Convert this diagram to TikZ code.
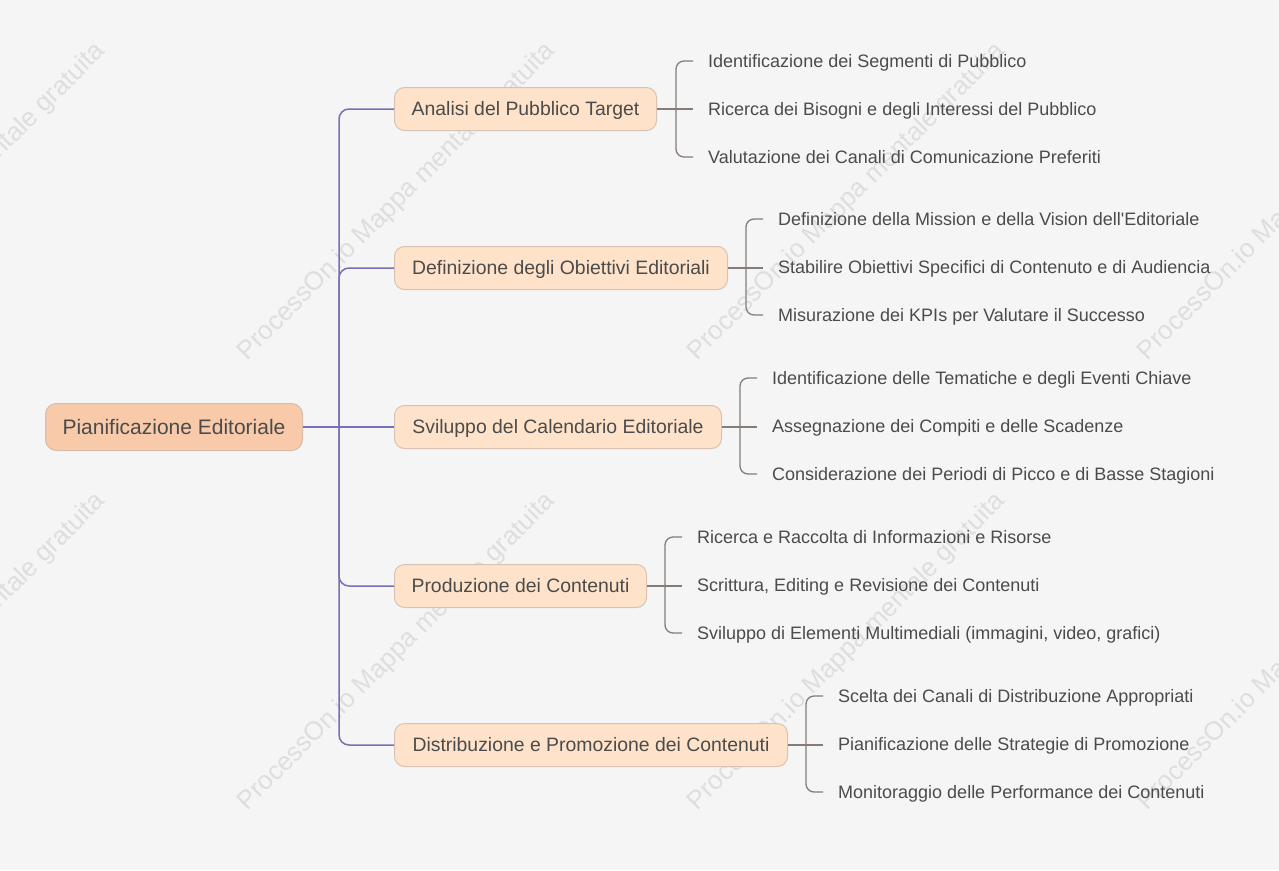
\documentclass[tikz,border=0pt]{standalone}
\usepackage{fontspec}
\setmainfont{Liberation Sans}
\newfontfamily\lsans{Liberation Sans}
\definecolor{bg}{HTML}{F5F5F5}
\definecolor{rootfill}{HTML}{F8CAAA}
\definecolor{rootdraw}{HTML}{D6BCAA}
\definecolor{brfill}{HTML}{FEE3CA}
\definecolor{brdraw}{HTML}{D9C2B4}
\definecolor{trunk}{HTML}{7B6DB6}
\definecolor{leafline}{HTML}{857C78}
\definecolor{txt}{HTML}{4B4B4B}
\definecolor{wm}{HTML}{DEDEDE}
\tikzset{
  rootbox/.style={draw=rootdraw, line width=1pt, fill=rootfill, rounded corners=11pt,
    minimum height=47pt, text=txt, font=\lsans\fontsize{21}{25}\selectfont,
    text height=15pt, text depth=0pt, inner xsep=0pt, anchor=west},
  brbox/.style={draw=brdraw, line width=1pt, fill=brfill, rounded corners=10pt,
    minimum height=43pt, text=txt, font=\lsans\fontsize{19.4}{23}\selectfont,
    text height=13.9pt, text depth=0pt, inner xsep=0pt, anchor=west},
  leaf/.style={text=txt, font=\lsans\fontsize{18}{22}\selectfont, text height=12.9pt,
    text depth=0pt, inner xsep=15pt, inner ysep=0pt, anchor=west},
  trunkline/.style={draw=trunk, line width=1.5pt, rounded corners=10pt},
  rootline/.style={draw=trunk, line width=2.2pt},
  stemline/.style={draw=leafline, line width=2pt},
  brkline/.style={draw=leafline, line width=1.3pt, rounded corners=8pt},
  wmark/.style={text=wm, font=\lsans\fontsize{26}{30}\selectfont, rotate=45, inner sep=0pt}
}
\begin{document}
\begin{tikzpicture}[x=1pt,y=-1pt]
\fill[bg] (0,0) rectangle (1279,870);
\useasboundingbox (0,0) rectangle (1279,870);
% watermarks
\foreach \wx in {-53,397,847,1297}{
  \foreach \wy in {202,652}{
    \node[wmark] at (\wx,\wy) {ProcessOn.io Mappa mentale gratuita};
  }
}
% root
\node[rootbox, minimum width=257pt] (root) at (45,427) {Pianificazione Editoriale};
% branches
\node[brbox, minimum width=262pt] (b1) at (394,109) {Analisi del Pubblico Target};
\node[brbox, minimum width=333pt] (b2) at (394,268) {Definizione degli Obiettivi Editoriali};
\node[brbox, minimum width=327pt] (b3) at (394,427) {Sviluppo del Calendario Editoriale};
\node[brbox, minimum width=252pt] (b4) at (394,586) {Produzione dei Contenuti};
\node[brbox, minimum width=393pt] (b5) at (394,745) {Distribuzione e Promozione dei Contenuti};
\coordinate (jn) at (339,427);
\draw[rootline] (root.east) -- (jn);
\draw[trunkline] (jn) -- (339,109) -- (b1.west);
\draw[trunkline] (jn) -- (339,268) -- (b2.west);
\draw[trunkline] (jn) -- (b3.west);
\draw[trunkline] (jn) -- (339,586) -- (b4.west);
\draw[trunkline] (jn) -- (339,745) -- (b5.west);
% leaves
% branch 1
\node[leaf] (l11) at (693,61) {Identificazione dei Segmenti di Pubblico};
\node[leaf] (l12) at (693,109) {Ricerca dei Bisogni e degli Interessi del Pubblico};
\node[leaf] (l13) at (693,157) {Valutazione dei Canali di Comunicazione Preferiti};
\draw[stemline] (b1.east) -- (676,109);
\draw[brkline] (676,109) -- (676,61) -- (l11.west);
\draw[brkline] (676,109) -- (l12.west);
\draw[brkline] (676,109) -- (676,157) -- (l13.west);
% branch 2
\node[leaf] (l21) at (763,219) {Definizione della Mission e della Vision dell'Editoriale};
\node[leaf] (l22) at (763,267) {Stabilire Obiettivi Specifici di Contenuto e di Audiencia};
\node[leaf] (l23) at (763,315) {Misurazione dei KPIs per Valutare il Successo};
\draw[stemline] (b2.east) -- (746,268);
\draw[brkline] (746,268) -- (746,219) -- (l21.west);
\draw[brkline] (746,268) -- (763,268);
\draw[brkline] (746,268) -- (746,315) -- (l23.west);
% branch 3
\node[leaf] (l31) at (757,378) {Identificazione delle Tematiche e degli Eventi Chiave};
\node[leaf] (l32) at (757,426) {Assegnazione dei Compiti e delle Scadenze};
\node[leaf] (l33) at (757,474) {Considerazione dei Periodi di Picco e di Basse Stagioni};
\draw[stemline] (b3.east) -- (740,427);
\draw[brkline] (740,427) -- (740,378) -- (l31.west);
\draw[brkline] (740,427) -- (757,427);
\draw[brkline] (740,427) -- (740,474) -- (l33.west);
% branch 4
\node[leaf] (l41) at (682,537) {Ricerca e Raccolta di Informazioni e Risorse};
\node[leaf] (l42) at (682,585) {Scrittura, Editing e Revisione dei Contenuti};
\node[leaf] (l43) at (682,633) {Sviluppo di Elementi Multimediali (immagini, video, grafici)};
\draw[stemline] (b4.east) -- (665,586);
\draw[brkline] (665,586) -- (665,537) -- (l41.west);
\draw[brkline] (665,586) -- (682,586);
\draw[brkline] (665,586) -- (665,633) -- (l43.west);
% branch 5
\node[leaf] (l51) at (823,696) {Scelta dei Canali di Distribuzione Appropriati};
\node[leaf] (l52) at (823,744) {Pianificazione delle Strategie di Promozione};
\node[leaf] (l53) at (823,792) {Monitoraggio delle Performance dei Contenuti};
\draw[stemline] (b5.east) -- (806,745);
\draw[brkline] (806,745) -- (806,696) -- (l51.west);
\draw[brkline] (806,745) -- (823,745);
\draw[brkline] (806,745) -- (806,792) -- (l53.west);
\end{tikzpicture}
\end{document}
